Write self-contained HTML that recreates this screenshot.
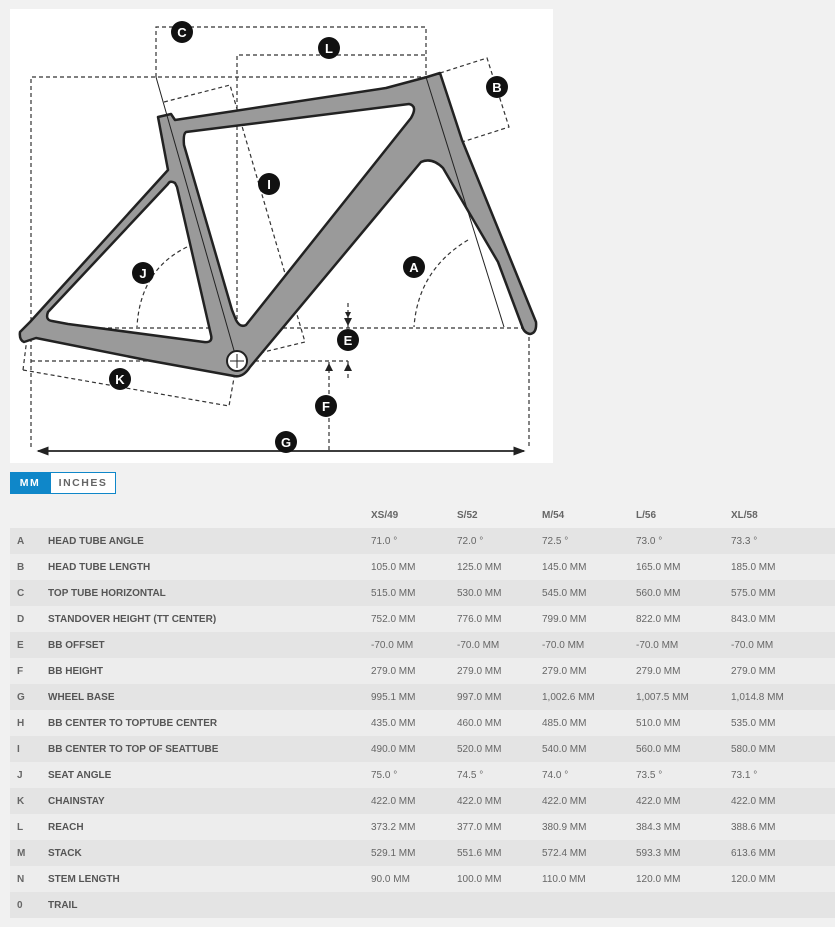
<!DOCTYPE html>
<html><head><meta charset="utf-8"><style>
body{margin:0;background:#f1f1f1;width:835px;height:927px;overflow:hidden;font-family:"Liberation Sans",sans-serif;}
#dia{position:absolute;left:10px;top:9px;width:543px;height:454px;background:#fff}
#tg{position:absolute;left:10px;top:472px;height:22px;display:flex;font-size:10.5px;font-weight:bold;letter-spacing:1.5px}
#tg div{height:20px;line-height:20px;border:1px solid #0f87c9;box-sizing:content-box}
.mm{background:#0f87c9;color:#fff;width:38px;text-align:center}
.in{background:#fff;color:#666;width:64px;text-align:center}
table{position:absolute;left:10px;top:502px;width:825px;border-collapse:collapse;font-size:10px;color:#666;table-layout:fixed}
td{height:26px;padding:0;white-space:nowrap;overflow:hidden}
tr.h td{font-weight:bold;height:26px}
tr.d{background:#e4e4e4}tr.l{background:#ededed}
td.k{padding-left:7px;font-weight:bold}
td.n{font-weight:bold;color:#555}
</style></head><body>
<div id="dia"></div>
<svg style="position:absolute;left:0;top:0" width="560" height="470">
<defs><marker id="ar" markerWidth="8" markerHeight="8" refX="7" refY="4" orient="auto"><path d="M0,1 L8,4 L0,7 z" fill="#222"/></marker></defs>
<g fill="none" stroke="#333" stroke-width="1.2" stroke-dasharray="4,3">
<path d="M156,77 V27 H426 V77"/>
<path d="M237,361 V55 H426"/>
<path d="M31,447 V77 H425"/>
<path d="M529,330 V447"/>
<path d="M31,328 H529"/>
<path d="M31,361 H348"/>
<path d="M23,370 L229,406 L237,361"/>
<path d="M23,370 L28,330"/>
<path d="M440,73 L487,58 L509,127 L462,142"/>
<path d="M164,102 L230,85 L305,342 L243,357"/>
<path d="M187,247 Q140,270 137,327"/>
<path d="M468,240 Q418,270 414,327"/>
<path d="M348,303 V328"/><path d="M348,378 V361"/>
<path d="M329,450 V361"/>
</g>
<path d="M348,318 l-3,-6 h6z M348,326 l-4,-8 h8z M348,363 l-4,8 h8z M329,363 l-4,8 h8z" fill="#222"/>
<line x1="38" y1="451" x2="524" y2="451" stroke="#222" stroke-width="1.5" marker-end="url(#ar)"/>
<line x1="524" y1="451" x2="38" y2="451" stroke="#222" stroke-width="1.5" marker-end="url(#ar)"/>
<path fill-rule="evenodd" fill="#9a9a9a" stroke="#222" stroke-width="2.5" stroke-linejoin="round" d="
M158,117 L171,114 L175,120 L386,88 L427,77 L440,73 L462,140 L536,322 Q537,333 530,334 Q524,333 522,326 L498,262 L443,168 Q432,157 421,162 L250,367 Q243,378 234,376 L146,360 L36,338 L24,342 Q19,340 20,332 L27,325 L30,322 L168,170 Z
M186,132 L409,104 Q418,106 411,118 L246,325 Q240,328 236,320 L232,310 L184,145 Q183,134 186,132 Z
M175,183 Q170,180 168,184 L48,312 Q45,320 52,321 L68,324 L204,342 Q213,343 211,335 L177,187 Z"/>
<g stroke="#222" stroke-width="1" fill="none">
<path d="M156,77 L166,112 L237,361"/>
<path d="M426,77 L504,327"/>
</g>
<circle cx="237" cy="361" r="10" fill="#fff" stroke="#222" stroke-width="2"/>
<path d="M230,361 H244 M237,354 V368" stroke="#222" stroke-width="1"/>
<g font-family="Liberation Sans,sans-serif" font-weight="bold" font-size="13" fill="#fff" text-anchor="middle">
<circle cx="182" cy="32" r="11" fill="#111"/><text x="182" y="37">C</text>
<circle cx="329" cy="48" r="11" fill="#111"/><text x="329" y="53">L</text>
<circle cx="497" cy="87" r="11" fill="#111"/><text x="497" y="92">B</text>
<circle cx="269" cy="184" r="11" fill="#111"/><text x="269" y="189">I</text>
<circle cx="143" cy="273" r="11" fill="#111"/><text x="143" y="278">J</text>
<circle cx="414" cy="267" r="11" fill="#111"/><text x="414" y="272">A</text>
<circle cx="348" cy="340" r="11" fill="#111"/><text x="348" y="345">E</text>
<circle cx="120" cy="379" r="11" fill="#111"/><text x="120" y="384">K</text>
<circle cx="326" cy="406" r="11" fill="#111"/><text x="326" y="411">F</text>
<circle cx="286" cy="442" r="11" fill="#111"/><text x="286" y="447">G</text>
</g>
</svg>
<div id="tg"><div class="mm">MM</div><div class="in">INCHES</div></div>
<table>
<colgroup><col style="width:38px"><col style="width:323px"><col style="width:86px"><col style="width:85px"><col style="width:94px"><col style="width:95px"><col></colgroup>
<tr class="h"><td class="k"></td><td class="n"></td><td>XS/49</td><td>S/52</td><td>M/54</td><td>L/56</td><td>XL/58</td></tr>
<tr class="d"><td class="k">A</td><td class="n">HEAD TUBE ANGLE</td><td>71.0 °</td><td>72.0 °</td><td>72.5 °</td><td>73.0 °</td><td>73.3 °</td></tr>
<tr class="l"><td class="k">B</td><td class="n">HEAD TUBE LENGTH</td><td>105.0 MM</td><td>125.0 MM</td><td>145.0 MM</td><td>165.0 MM</td><td>185.0 MM</td></tr>
<tr class="d"><td class="k">C</td><td class="n">TOP TUBE HORIZONTAL</td><td>515.0 MM</td><td>530.0 MM</td><td>545.0 MM</td><td>560.0 MM</td><td>575.0 MM</td></tr>
<tr class="l"><td class="k">D</td><td class="n">STANDOVER HEIGHT (TT CENTER)</td><td>752.0 MM</td><td>776.0 MM</td><td>799.0 MM</td><td>822.0 MM</td><td>843.0 MM</td></tr>
<tr class="d"><td class="k">E</td><td class="n">BB OFFSET</td><td>-70.0 MM</td><td>-70.0 MM</td><td>-70.0 MM</td><td>-70.0 MM</td><td>-70.0 MM</td></tr>
<tr class="l"><td class="k">F</td><td class="n">BB HEIGHT</td><td>279.0 MM</td><td>279.0 MM</td><td>279.0 MM</td><td>279.0 MM</td><td>279.0 MM</td></tr>
<tr class="d"><td class="k">G</td><td class="n">WHEEL BASE</td><td>995.1 MM</td><td>997.0 MM</td><td>1,002.6 MM</td><td>1,007.5 MM</td><td>1,014.8 MM</td></tr>
<tr class="l"><td class="k">H</td><td class="n">BB CENTER TO TOPTUBE CENTER</td><td>435.0 MM</td><td>460.0 MM</td><td>485.0 MM</td><td>510.0 MM</td><td>535.0 MM</td></tr>
<tr class="d"><td class="k">I</td><td class="n">BB CENTER TO TOP OF SEATTUBE</td><td>490.0 MM</td><td>520.0 MM</td><td>540.0 MM</td><td>560.0 MM</td><td>580.0 MM</td></tr>
<tr class="l"><td class="k">J</td><td class="n">SEAT ANGLE</td><td>75.0 °</td><td>74.5 °</td><td>74.0 °</td><td>73.5 °</td><td>73.1 °</td></tr>
<tr class="d"><td class="k">K</td><td class="n">CHAINSTAY</td><td>422.0 MM</td><td>422.0 MM</td><td>422.0 MM</td><td>422.0 MM</td><td>422.0 MM</td></tr>
<tr class="l"><td class="k">L</td><td class="n">REACH</td><td>373.2 MM</td><td>377.0 MM</td><td>380.9 MM</td><td>384.3 MM</td><td>388.6 MM</td></tr>
<tr class="d"><td class="k">M</td><td class="n">STACK</td><td>529.1 MM</td><td>551.6 MM</td><td>572.4 MM</td><td>593.3 MM</td><td>613.6 MM</td></tr>
<tr class="l"><td class="k">N</td><td class="n">STEM LENGTH</td><td>90.0 MM</td><td>100.0 MM</td><td>110.0 MM</td><td>120.0 MM</td><td>120.0 MM</td></tr>
<tr class="d"><td class="k">0</td><td class="n">TRAIL</td><td></td><td></td><td></td><td></td><td></td></tr>
</table>
</body></html>
